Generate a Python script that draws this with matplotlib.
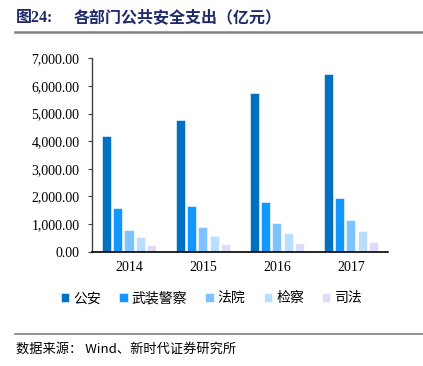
import matplotlib
matplotlib.use("Agg")
import matplotlib.pyplot as plt
from matplotlib.lines import Line2D
from matplotlib.ticker import FuncFormatter, MultipleLocator
import numpy as np

years = ["2014", "2015", "2016", "2017"]
series_names = ["公安", "武装警察", "法院", "检察", "司法"]
gongan = [4200, 4750, 5730, 6430]
wujing = [1580, 1650, 1790, 1930]
fayuan = [780, 890, 1025, 1145]
jiancha = [520, 580, 660, 735]
sifa = [240, 290, 325, 360]
colors = ["#0070C0", "#1296FF", "#7DC3FF", "#B9DEFF", "#DCDCFA"]

series = [gongan, wujing, fayuan, jiancha, sifa]

plt.rcParams['font.family'] = ['Noto Sans CJK SC', 'DejaVu Sans']

fig = plt.figure(figsize=(4.23, 3.66), dpi=100)
ax = fig.add_axes([0.2175, 0.3123, 0.6995, 0.5284])

x = np.arange(len(years))
width = 0.122
step = 0.153
for i, (vals, c) in enumerate(zip(series, colors)):
    ax.bar(x + (i - 2) * step, vals, width=width, color=c, edgecolor="white",
           linewidth=0.4, label=series_names[i])

ax.set_xlim(-0.5, 3.5)
ax.set_ylim(0, 7000)
ax.yaxis.set_major_locator(MultipleLocator(1000))
ax.yaxis.set_major_formatter(FuncFormatter(lambda v, p: f"{v:,.2f}"))
ax.set_xticks(x)
ax.set_xticklabels(years)
for lab in ax.get_xticklabels() + ax.get_yticklabels():
    lab.set_fontfamily("Liberation Serif")
    lab.set_fontsize(10)
    lab.set_color("#000000")
ax.tick_params(axis="x", length=0, pad=7)
ax.tick_params(axis="y", length=3, width=0.8, color="#404040", pad=6)
for s in ["top", "right"]:
    ax.spines[s].set_visible(False)
ax.spines["left"].set_color("#404040")
ax.spines["left"].set_linewidth(1.0)
ax.spines["bottom"].set_color("#000000")
ax.spines["bottom"].set_linewidth(1.2)

leg = fig.legend(loc="center", bbox_to_anchor=(0.5, 0.185), ncol=5, frameon=False,
                 fontsize=10, handlelength=0.6, handleheight=0.6, handletextpad=0.3,
                 columnspacing=1.3)

fig.text(0.038, 0.952, "图24:", fontsize=11.5, fontweight="bold", color="#1F2A6B",
         va="center", ha="left", family=["Liberation Serif", "Noto Sans CJK SC"])
fig.text(0.175, 0.952, "各部门公共安全支出（亿元）", fontsize=11.5, fontweight="bold",
         color="#1F2A6B", va="center", ha="left")
fig.add_artist(Line2D([0.035, 1.0], [0.913, 0.913], color="#808080", linewidth=1.8,
                      transform=fig.transFigure))
fig.add_artist(Line2D([0.035, 1.0], [0.088, 0.088], color="#808080", linewidth=1.2,
                      transform=fig.transFigure))
fig.text(0.038, 0.045, "数据来源： Wind、新时代证券研究所", fontsize=9.5, va="center",
         ha="left", color="#000000")

fig.savefig("out.png", dpi=100)
